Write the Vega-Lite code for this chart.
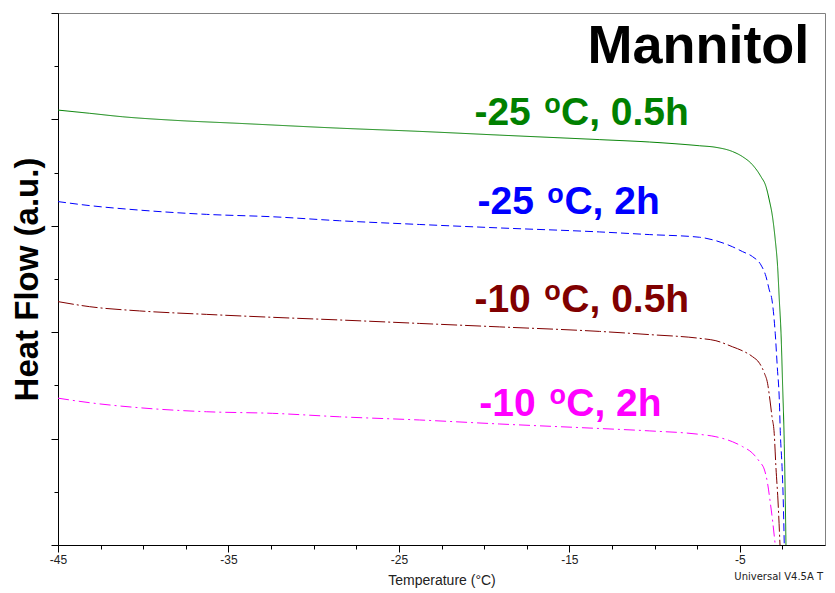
{
  "$schema": "https://vega.github.io/schema/vega-lite/v6.json",
  "width": 767,
  "height": 532,
  "autosize": {"type": "none"},
  "padding": {"left": 58, "top": 13, "right": 10, "bottom": 48},
  "background": "white",
  "config": {
    "font": "Liberation Sans",
    "view": {"stroke": "#808080", "strokeWidth": 1}
  },
  "datasets": {
    "curves": [
      {"s": "-25 °C, 0.5h", "t": -45, "v": 16.35},
      {"s": "-25 °C, 0.5h", "t": -43.15, "v": 16.23},
      {"s": "-25 °C, 0.5h", "t": -41.22, "v": 16.10},
      {"s": "-25 °C, 0.5h", "t": -38.28, "v": 15.97},
      {"s": "-25 °C, 0.5h", "t": -34.35, "v": 15.85},
      {"s": "-25 °C, 0.5h", "t": -28.49, "v": 15.67},
      {"s": "-25 °C, 0.5h", "t": -23.80, "v": 15.55},
      {"s": "-25 °C, 0.5h", "t": -19.11, "v": 15.41},
      {"s": "-25 °C, 0.5h", "t": -13.24, "v": 15.24},
      {"s": "-25 °C, 0.5h", "t": -10.31, "v": 15.15},
      {"s": "-25 °C, 0.5h", "t": -7.37, "v": 15.01},
      {"s": "-25 °C, 0.5h", "t": -6.40, "v": 14.95},
      {"s": "-25 °C, 0.5h", "t": -5.42, "v": 14.79},
      {"s": "-25 °C, 0.5h", "t": -4.84, "v": 14.60},
      {"s": "-25 °C, 0.5h", "t": -4.25, "v": 14.29},
      {"s": "-25 °C, 0.5h", "t": -3.76, "v": 13.85},
      {"s": "-25 °C, 0.5h", "t": -3.46, "v": 13.47},
      {"s": "-25 °C, 0.5h", "t": -3.27, "v": 12.97},
      {"s": "-25 °C, 0.5h", "t": -3.08, "v": 12.34},
      {"s": "-25 °C, 0.5h", "t": -2.92, "v": 11.48},
      {"s": "-25 °C, 0.5h", "t": -2.78, "v": 10.46},
      {"s": "-25 °C, 0.5h", "t": -2.68, "v": 9.21},
      {"s": "-25 °C, 0.5h", "t": -2.58, "v": 7.96},
      {"s": "-25 °C, 0.5h", "t": -2.49, "v": 6.08},
      {"s": "-25 °C, 0.5h", "t": -2.39, "v": 3.82},
      {"s": "-25 °C, 0.5h", "t": -2.33, "v": 1.69},
      {"s": "-25 °C, 0.5h", "t": -2.29, "v": 0.0},
      {"s": "-25 °C, 2h", "t": -45, "v": 12.91},
      {"s": "-25 °C, 2h", "t": -43.15, "v": 12.76},
      {"s": "-25 °C, 2h", "t": -40.22, "v": 12.59},
      {"s": "-25 °C, 2h", "t": -36.29, "v": 12.43},
      {"s": "-25 °C, 2h", "t": -32.42, "v": 12.34},
      {"s": "-25 °C, 2h", "t": -28.49, "v": 12.19},
      {"s": "-25 °C, 2h", "t": -23.80, "v": 12.05},
      {"s": "-25 °C, 2h", "t": -19.11, "v": 11.92},
      {"s": "-25 °C, 2h", "t": -13.24, "v": 11.77},
      {"s": "-25 °C, 2h", "t": -10.31, "v": 11.67},
      {"s": "-25 °C, 2h", "t": -7.37, "v": 11.57},
      {"s": "-25 °C, 2h", "t": -6.40, "v": 11.44},
      {"s": "-25 °C, 2h", "t": -5.42, "v": 11.21},
      {"s": "-25 °C, 2h", "t": -4.84, "v": 11.03},
      {"s": "-25 °C, 2h", "t": -4.25, "v": 10.84},
      {"s": "-25 °C, 2h", "t": -3.76, "v": 10.53},
      {"s": "-25 °C, 2h", "t": -3.46, "v": 10.09},
      {"s": "-25 °C, 2h", "t": -3.27, "v": 9.59},
      {"s": "-25 °C, 2h", "t": -3.11, "v": 9.21},
      {"s": "-25 °C, 2h", "t": -2.92, "v": 7.96},
      {"s": "-25 °C, 2h", "t": -2.80, "v": 6.70},
      {"s": "-25 °C, 2h", "t": -2.68, "v": 5.45},
      {"s": "-25 °C, 2h", "t": -2.62, "v": 4.20},
      {"s": "-25 °C, 2h", "t": -2.52, "v": 2.94},
      {"s": "-25 °C, 2h", "t": -2.45, "v": 1.69},
      {"s": "-25 °C, 2h", "t": -2.39, "v": 0.0},
      {"s": "-10 °C, 0.5h", "t": -45, "v": 9.15},
      {"s": "-10 °C, 0.5h", "t": -43.15, "v": 8.96},
      {"s": "-10 °C, 0.5h", "t": -40.22, "v": 8.80},
      {"s": "-10 °C, 0.5h", "t": -36.29, "v": 8.67},
      {"s": "-10 °C, 0.5h", "t": -32.42, "v": 8.56},
      {"s": "-10 °C, 0.5h", "t": -28.49, "v": 8.46},
      {"s": "-10 °C, 0.5h", "t": -23.80, "v": 8.33},
      {"s": "-10 °C, 0.5h", "t": -19.11, "v": 8.20},
      {"s": "-10 °C, 0.5h", "t": -13.24, "v": 8.03},
      {"s": "-10 °C, 0.5h", "t": -10.31, "v": 7.91},
      {"s": "-10 °C, 0.5h", "t": -7.37, "v": 7.77},
      {"s": "-10 °C, 0.5h", "t": -6.40, "v": 7.68},
      {"s": "-10 °C, 0.5h", "t": -5.42, "v": 7.45},
      {"s": "-10 °C, 0.5h", "t": -4.84, "v": 7.30},
      {"s": "-10 °C, 0.5h", "t": -4.25, "v": 7.08},
      {"s": "-10 °C, 0.5h", "t": -3.84, "v": 6.83},
      {"s": "-10 °C, 0.5h", "t": -3.55, "v": 6.45},
      {"s": "-10 °C, 0.5h", "t": -3.37, "v": 6.08},
      {"s": "-10 °C, 0.5h", "t": -3.23, "v": 5.45},
      {"s": "-10 °C, 0.5h", "t": -3.11, "v": 4.82},
      {"s": "-10 °C, 0.5h", "t": -2.98, "v": 4.20},
      {"s": "-10 °C, 0.5h", "t": -2.88, "v": 2.94},
      {"s": "-10 °C, 0.5h", "t": -2.76, "v": 1.69},
      {"s": "-10 °C, 0.5h", "t": -2.64, "v": 0.0},
      {"s": "-10 °C, 2h", "t": -45, "v": 5.52},
      {"s": "-10 °C, 2h", "t": -43.15, "v": 5.35},
      {"s": "-10 °C, 2h", "t": -40.22, "v": 5.16},
      {"s": "-10 °C, 2h", "t": -36.29, "v": 5.01},
      {"s": "-10 °C, 2h", "t": -32.42, "v": 4.95},
      {"s": "-10 °C, 2h", "t": -28.49, "v": 4.82},
      {"s": "-10 °C, 2h", "t": -23.80, "v": 4.70},
      {"s": "-10 °C, 2h", "t": -19.11, "v": 4.55},
      {"s": "-10 °C, 2h", "t": -13.24, "v": 4.38},
      {"s": "-10 °C, 2h", "t": -10.31, "v": 4.29},
      {"s": "-10 °C, 2h", "t": -7.37, "v": 4.16},
      {"s": "-10 °C, 2h", "t": -6.40, "v": 4.07},
      {"s": "-10 °C, 2h", "t": -5.42, "v": 3.88},
      {"s": "-10 °C, 2h", "t": -4.84, "v": 3.70},
      {"s": "-10 °C, 2h", "t": -4.25, "v": 3.45},
      {"s": "-10 °C, 2h", "t": -3.84, "v": 3.13},
      {"s": "-10 °C, 2h", "t": -3.55, "v": 2.82},
      {"s": "-10 °C, 2h", "t": -3.37, "v": 2.32},
      {"s": "-10 °C, 2h", "t": -3.23, "v": 1.69},
      {"s": "-10 °C, 2h", "t": -3.08, "v": 0.94},
      {"s": "-10 °C, 2h", "t": -2.92, "v": 0.0}
    ],
    "labels": [
      {"s": "-25 °C, 0.5h", "txt": "-25", "t": -20.57, "v": 15.79},
      {"s": "-25 °C, 0.5h", "txt": "C, 0.5h", "t": -15.49, "v": 15.79},
      {"s": "-25 °C, 2h", "txt": "-25", "t": -20.39, "v": 12.44},
      {"s": "-25 °C, 2h", "txt": "C, 2h", "t": -15.29, "v": 12.44},
      {"s": "-10 °C, 0.5h", "txt": "-10", "t": -20.57, "v": 8.77},
      {"s": "-10 °C, 0.5h", "txt": "C, 0.5h", "t": -15.47, "v": 8.77},
      {"s": "-10 °C, 2h", "txt": "-10", "t": -20.28, "v": 4.86},
      {"s": "-10 °C, 2h", "txt": "C, 2h", "t": -15.18, "v": 4.86}
    ],
    "sups": [
      {"s": "-25 °C, 0.5h", "txt": "o", "t": -16.47, "v": 16.24},
      {"s": "-25 °C, 2h", "txt": "o", "t": -16.29, "v": 12.86},
      {"s": "-10 °C, 0.5h", "txt": "o", "t": -16.47, "v": 9.21},
      {"s": "-10 °C, 2h", "txt": "o", "t": -16.17, "v": 5.30}
    ],
    "title": [{"txt": "Mannitol", "t": -13.94, "v": 18.11}],
    "note": [{"txt": "Universal V4.5A T", "t": -5.32, "v": -1.22}]
  },
  "layer": [
    {
      "data": {"name": "curves"},
      "mark": {"type": "line", "strokeWidth": 1, "interpolate": "monotone"},
      "encoding": {
        "x": {
          "field": "t", "type": "quantitative",
          "scale": {"domain": [-45, 0], "nice": false, "zero": false},
          "axis": {
            "values": [-45, -42.5, -40, -37.5, -35, -32.5, -30, -27.5, -25, -22.5, -20, -17.5, -15, -12.5, -10, -7.5, -5, -2.5],
            "labelExpr": "abs(datum.value) % 10 === 5 ? '' + datum.value : ''",
            "labelFlush": false,
            "labelOverlap": false,
            "labelFontSize": 12,
            "labelColor": "#222222",
            "labelPadding": 2,
            "tickSize": {"condition": {"test": "abs(datum.value) % 10 === 5", "value": 7}, "value": 4},
            "tickColor": "black",
            "domainColor": "black",
            "grid": false,
            "title": "Temperature (°C)",
            "titleFontSize": 14,
            "titleFontWeight": "normal",
            "titleColor": "#222222",
            "titlePadding": 8
          }
        },
        "y": {
          "field": "v", "type": "quantitative",
          "scale": {"domain": [0, 20], "nice": false, "zero": false},
          "axis": {
            "values": [0, 1, 2, 3, 4, 5, 6, 7, 8, 9, 10, 11, 12, 13, 14, 15, 16, 17, 18, 19, 20],
            "labels": false,
            "tickSize": {"condition": {"test": "datum.value % 4 === 0", "value": 7}, "value": 4},
            "tickColor": "black",
            "domainColor": "black",
            "grid": false,
            "title": "Heat Flow (a.u.)",
            "titleFontSize": 33,
            "titleFontWeight": "bold",
            "titleColor": "black",
            "titlePadding": 6
          }
        },
        "color": {
          "field": "s", "type": "nominal",
          "scale": {"domain": ["-25 °C, 0.5h", "-25 °C, 2h", "-10 °C, 0.5h", "-10 °C, 2h"], "range": ["#008000", "#0000ff", "#800000", "#ff00ff"]},
          "legend": null
        },
        "strokeDash": {
          "field": "s", "type": "nominal",
          "scale": {"domain": ["-25 °C, 0.5h", "-25 °C, 2h", "-10 °C, 0.5h", "-10 °C, 2h"], "range": [[1, 0], [8, 4], [16, 3, 2, 3], [11, 4, 2, 4]]},
          "legend": null
        }
      }
    },
    {
      "data": {"name": "labels"},
      "mark": {"type": "text", "align": "left", "baseline": "alphabetic", "fontSize": 39, "fontWeight": "bold"},
      "encoding": {
        "x": {"field": "t", "type": "quantitative"},
        "y": {"field": "v", "type": "quantitative"},
        "text": {"field": "txt"},
        "color": {"field": "s", "type": "nominal", "legend": null}
      }
    },
    {
      "data": {"name": "sups"},
      "mark": {"type": "text", "align": "left", "baseline": "alphabetic", "fontSize": 27, "fontWeight": "bold"},
      "encoding": {
        "x": {"field": "t", "type": "quantitative"},
        "y": {"field": "v", "type": "quantitative"},
        "text": {"field": "txt"},
        "color": {"field": "s", "type": "nominal", "legend": null}
      }
    },
    {
      "data": {"name": "title"},
      "mark": {"type": "text", "align": "left", "baseline": "alphabetic", "fontSize": 54, "fontWeight": "bold", "color": "black"},
      "encoding": {
        "x": {"field": "t", "type": "quantitative"},
        "y": {"field": "v", "type": "quantitative"},
        "text": {"field": "txt"}
      }
    },
    {
      "data": {"name": "note"},
      "mark": {"type": "text", "align": "left", "baseline": "middle", "fontSize": 10, "font": "DejaVu Sans", "color": "#222222"},
      "encoding": {
        "x": {"field": "t", "type": "quantitative"},
        "y": {"field": "v", "type": "quantitative"},
        "text": {"field": "txt"}
      }
    }
  ]
}
